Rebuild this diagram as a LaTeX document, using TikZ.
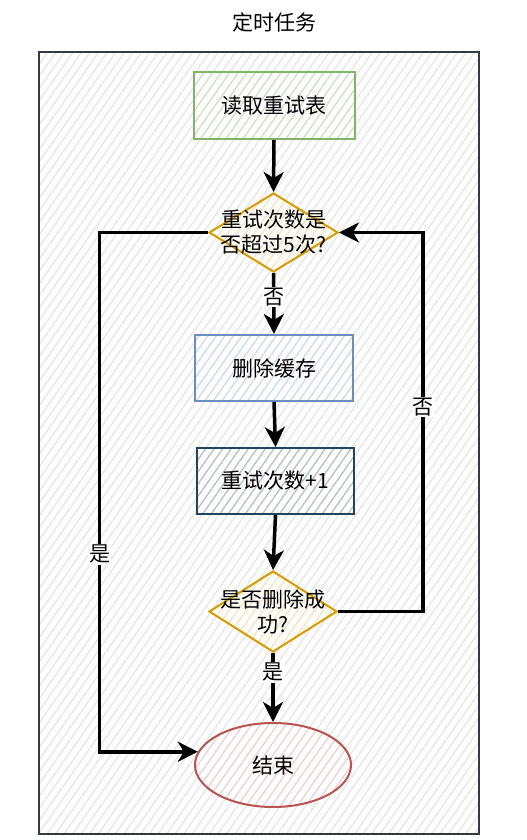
\documentclass[tikz,border=0pt]{standalone}
\usepackage{fontspec}
\setmainfont{Noto Sans CJK SC}
\usetikzlibrary{arrows.meta,shapes.geometric,patterns.meta}
\definecolor{cgreen}{HTML}{82B366}
\definecolor{cblue}{HTML}{6C8EBF}
\definecolor{cdark}{HTML}{23445D}
\definecolor{corange}{HTML}{D79B00}
\definecolor{cred}{HTML}{B85450}
\definecolor{cframe}{HTML}{36393D}

\begin{document}
\begin{tikzpicture}[x=1pt,y=-1pt,every node/.style={font=\fontsize{21}{25}\selectfont},
  hatch/.style={preaction={fill=white},pattern={Lines[angle=55,distance=7pt,line width=1.4pt]},pattern color=#1},
  box/.style args={#1/#2}{draw=#1,line width=2pt,hatch=#2,minimum width=158pt,minimum height=66pt},
  dia/.style={diamond,draw=corange,line width=2pt,hatch=corange!25,minimum width=129pt,minimum height=79pt,inner sep=0pt},
  endo/.style={ellipse,draw=cred,line width=2pt,hatch=cred!25,minimum width=156pt,minimum height=84pt},
  arr/.style={line width=3.5pt,-{Stealth[length=20pt,width=20pt,inset=6pt]}},
  lab/.style={fill=white,inner sep=1pt}]
\useasboundingbox (0,0) rectangle (527,840);
\draw[draw=cframe,line width=2.5pt,hatch=black!9] (39,52) rectangle (479,834);
\node (title) at (274,22) {定时任务};
\node[box=cgreen/cgreen!38,minimum width=161pt,minimum height=67pt] (read) at (274,105.5) {读取重试表};
\node[dia] (ask) at (273.5,232.5) {};
\node[align=center] (askt) at (ask) {重试次数是\\否超过5次?};
\node[box=cblue/cblue!32] (del) at (274,368) {删除缓存};
\node[box=cdark/cdark!32,minimum width=157pt] (inc) at (275.5,481) {重试次数+1};
\node[dia,minimum width=128pt,minimum height=81pt] (ok) at (273,611.5) {};
\node[align=center] (okt) at (ok) {是否删除成\\功?};
\node[endo] (end) at (273,765) {结束};
\draw[arr] (read.south) -- (ask.north);
\draw[arr] (ask.south) -- node[lab,pos=0.4]{否} (del.north);
\draw[arr] (del.south) -- (inc.north);
\draw[arr] (inc.south) -- (ok.north);
\draw[arr] (ok.south) -- node[lab,pos=0.28]{是} (end.north);
\draw[arr] (ask.west) -- ++(-108.5,0) |- node[lab,pos=0.31]{是} (end.170);
\draw[arr] (ok.east) -- ++(85,0) |- node[lab,pos=0.27]{否} (ask.east);
\end{tikzpicture}
\end{document}
